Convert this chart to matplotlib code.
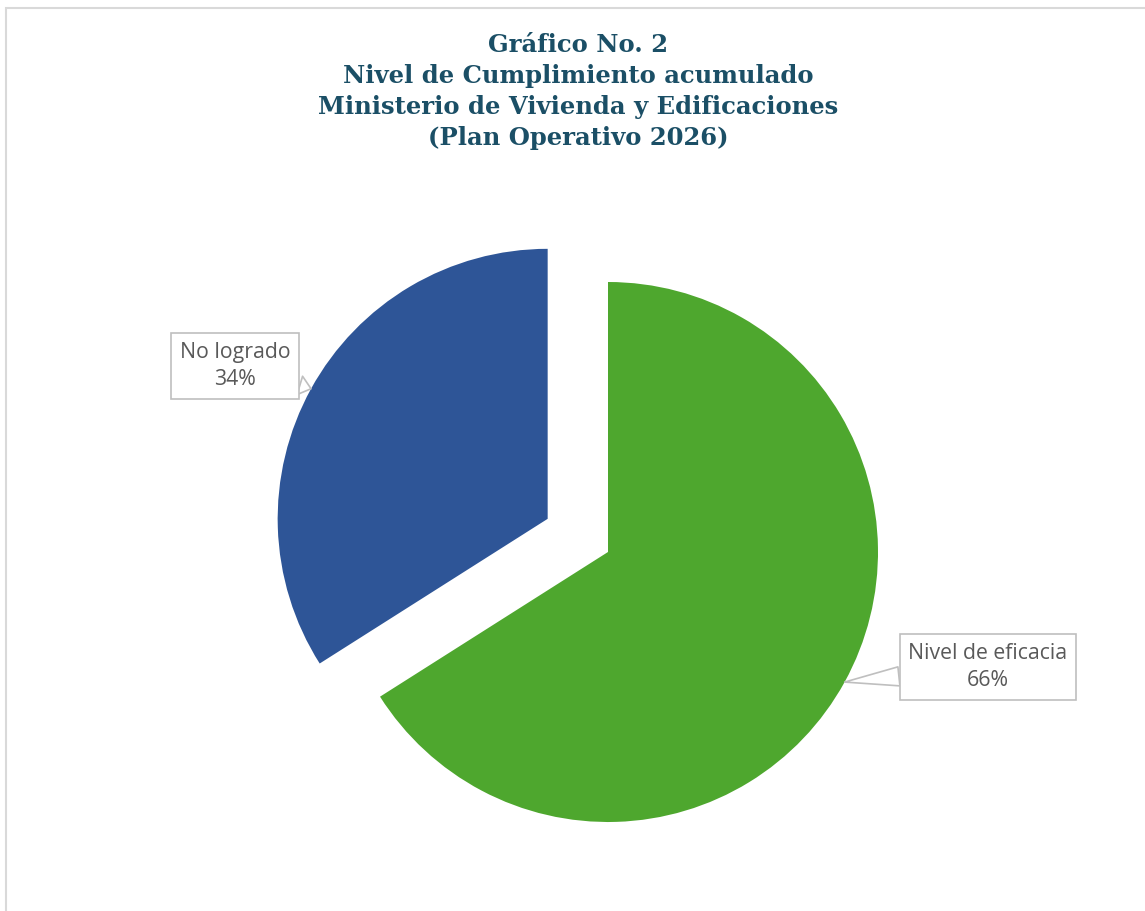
import matplotlib
matplotlib.use('Agg')
import matplotlib.pyplot as plt
from matplotlib.patches import Rectangle
import numpy as np

# datos
categorias = ['Nivel de eficacia', 'No logrado']
valores = [66, 34]
colores = ['#4EA72E', '#2E5597']
titulo = ('Gráfico No. 2\nNivel de Cumplimiento acumulado\n'
          'Ministerio de Vivienda y Edificaciones\n(Plan Operativo 2026)')

W, H = 1145, 911
fig = plt.figure(figsize=(W / 100, H / 100), dpi=100)
ax = fig.add_axes([0, 0, 1, 1])

cx, cy, r = 608, H - 552, 270
wedges, _ = ax.pie(valores, colors=colores, startangle=90, counterclock=False,
                   explode=[0, 0.255 * r], radius=r, center=(cx, cy),
                   wedgeprops=dict(linewidth=0))
ax.set_xlim(0, W)
ax.set_ylim(0, H)
ax.axis('off')

# borde del área del gráfico
fig.patches.append(Rectangle((6 / W, -0.1), 1.2, (H - 8) / H + 0.1,
                             transform=fig.transFigure, fill=False,
                             ec='#D9D9D9', lw=1.5))

fig.text(578 / W, 1 - 33 / H, titulo, ha='center', va='top',
         fontsize=17.5, fontweight='bold', family='DejaVu Serif',
         color='#1B4F66', linespacing=1.37)

# etiquetas tipo llamada
pos_etq = [(988, 667), (235, 366)]
for w, nombre, v, (tx, ty) in zip(wedges, categorias, valores, pos_etq):
    ang = np.deg2rad((w.theta1 + w.theta2) / 2)
    px = w.center[0] + w.r * np.cos(ang)
    py = w.center[1] + w.r * np.sin(ang)
    ax.annotate(f'{nombre}\n{v}%', xy=(px, py), xytext=(tx, H - ty),
                ha='center', va='center', fontsize=15.3, family='Open Sans',
                color='#595959', linespacing=1.42,
                bbox=dict(boxstyle='square,pad=0.42', fc='white', ec='#BFBFBF', lw=1.2),
                arrowprops=dict(arrowstyle='wedge,tail_width=0.9,shrink_factor=0.5',
                                fc='white', ec='#BFBFBF', lw=1.2, shrinkA=0, shrinkB=0))

fig.savefig('out.png', dpi=100, facecolor='white')
